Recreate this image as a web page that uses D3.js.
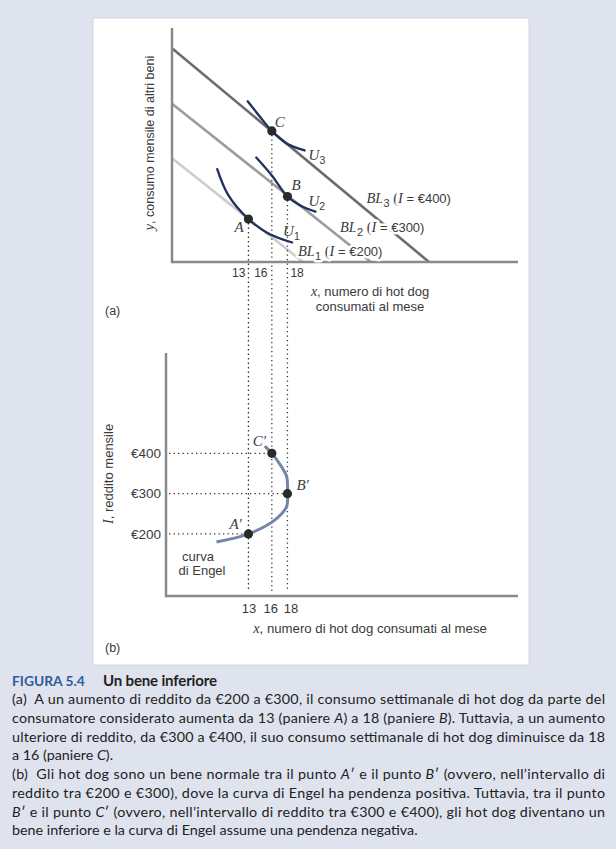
<!DOCTYPE html>
<html><head><meta charset="utf-8">
<script src="https://cdn.jsdelivr.net/npm/d3@7"></script>
<style>body{margin:0;background:#dfe3ee;} svg{display:block}</style>
</head><body><svg id="c" width="616" height="849"></svg>
<script>
// ---------- data ----------
const hotDogTicks = [13, 16, 18];
const incomeTicks = [200, 300, 400];
const budgetNames = ["1", "2", "3"];
const budgetIncome = [200, 300, 400];
const budgetStartY = [13.3, 20.3, 27.4];   // y at the vertical axis
const budgetEndX = [20.0, 28.7, 36.15];    // x where y = 0
const u1X = [9.0, 10.4, 13, 15.5, 18.6];
const u1Y = [11.9, 8.6, 5.5, 3.7, 2.5];
const u2X = [14.0, 16.0, 18, 19.7, 21.6];
const u2Y = [13.4, 11.1, 8.4, 7.2, 6.45];
const u3X = [12.9, 14.3, 16, 17.9, 20.2];
const u3Y = [20.6, 18.85, 16.8, 15.2, 14.3];
const basketNames = ["A", "B", "C"];
const basketX = [13, 18, 16];
const basketY = [5.5, 8.4, 16.8];
const basketIncome = [200, 300, 400];
const engelX = [8.9, 13, 16.4, 17.9, 18, 17.9, 17.1, 16, 15.1];
const engelIncome = [180, 200, 235, 268, 300, 342, 371, 400, 418];

const captionTitle = ["FIGURA 5.4", "Un bene inferiore"];
const captionLines = [
  [["(a)  A un aumento di reddito da €200 a €300, il consumo settimanale di hot dog da parte del"]],
  [["consumatore considerato aumenta da 13 (paniere "], ["A", "i"], [") a 18 (paniere "], ["B", "i"], ["). Tuttavia, a un aumento"]],
  [["ulteriore di reddito, da €300 a €400, il suo consumo settimanale di hot dog diminuisce da 18"]],
  [["a 16 (paniere "], ["C", "i"], [")."]],
  [["(b)  Gli hot dog sono un bene normale tra il punto "], ["A", "i"], ["′ e il punto "], ["B", "i"], ["′ (ovvero, nell’intervallo di"]],
  [["reddito tra €200 e €300), dove la curva di Engel ha pendenza positiva. Tuttavia, tra il punto"]],
  [["B", "i"], ["′ e il punto "], ["C", "i"], ["′ (ovvero, nell’intervallo di reddito tra €300 e €400), gli hot dog diventano un"]],
  [["bene inferiore e la curva di Engel assume una pendenza negativa."]]
];
const captionJustified = [true, true, true, false, true, true, true, false];

// ---------- style ----------
const SANS = "'Liberation Sans', Arial, Helvetica, sans-serif";
const SERIF = "'Liberation Serif', 'Times New Roman', serif";
const CAP = "Lato, 'Open Sans', sans-serif";
const TXT = "#3a3a3a";
const blColors = ["#cdcdcd", "#9c9c9c", "#6c6c6c"];
const navy = "#1f2f5f";

const svg = d3.select("#c");
svg.append("rect").attr("width", 616).attr("height", 849).attr("fill", "#dfe3ee");
svg.append("rect").attr("x", 93).attr("y", 18).attr("width", 436).attr("height", 647)
  .attr("fill", "#fff").attr("stroke", "#d2d7e2").attr("stroke-width", 1);

// ---------- scales ----------
const x = d3.scaleLinear().domain([3.2, 47.56]).range([172, 518]);
const yA = d3.scaleLinear().domain([0, 30]).range([262, 28]);
const yB = d3.scaleLinear().domain([46, 649]).range([596, 353]);

function rich(sel, px, py, parts, size, opts = {}) {
  const ss = opts.serif || size + 3;
  const t = sel.append("text").attr("x", px).attr("y", py).attr("fill", TXT)
    .attr("font-family", SANS).attr("font-size", size).style("white-space", "pre");
  if (opts.anchor) t.attr("text-anchor", opts.anchor);
  if (opts.transform) t.attr("transform", opts.transform);
  if (opts.halo) t.attr("stroke", "#fff").attr("stroke-width", 5).attr("paint-order", "stroke").attr("stroke-linejoin", "round");
  let shift = 0;
  parts.forEach(p => {
    const k = p[1] || "s";
    const ts = t.append("tspan").text(p[0]);
    let target = 0;
    if (k === "i") ts.attr("font-family", SERIF).attr("font-style", "italic").attr("font-size", ss);
    else if (k === "r") ts.attr("font-family", SERIF).attr("font-size", ss);
    else if (k === "sub") { ts.attr("font-size", size - 2); target = 4; }
    if (target !== shift) { ts.attr("dy", target - shift); shift = target; }
  });
  return t;
}

// ---------- panel (a) ----------
const gA = svg.append("g");
budgetIncome.forEach((inc, i) => {
  gA.append("path")
    .attr("d", d3.line()([[x(x.domain()[0]), yA(budgetStartY[i])], [x(budgetEndX[i]), yA(0)]]))
    .attr("stroke", blColors[i]).attr("stroke-width", 2.6).attr("fill", "none");
});
basketX.forEach((bx, i) => {
  gA.append("line").attr("x1", x(bx)).attr("x2", x(bx))
    .attr("y1", yA(basketY[i]) + 4).attr("y2", yB(46) - 4)
    .attr("stroke", "#333").attr("stroke-width", 1.3).attr("stroke-dasharray", "1.3,3.2");
});
gA.append("line").attr("x1", x.range()[0]).attr("x2", x.range()[0]).attr("y1", yA.range()[1]).attr("y2", yA.range()[0] + 1.2)
  .attr("stroke", "#8a8a8a").attr("stroke-width", 2.5);
gA.append("line").attr("x1", x.range()[0]).attr("x2", x.range()[1]).attr("y1", yA.range()[0]).attr("y2", yA.range()[0])
  .attr("stroke", "#8a8a8a").attr("stroke-width", 2.5);
const icLine = d3.line().x(d => x(d[0])).y(d => yA(d[1])).curve(d3.curveCatmullRom.alpha(0.5));
[[u1X, u1Y], [u2X, u2Y], [u3X, u3Y]].forEach(([xs, ys]) => {
  gA.append("path").attr("d", icLine(xs.map((v, j) => [v, ys[j]])))
    .attr("stroke", navy).attr("stroke-width", 2.3).attr("fill", "none").attr("stroke-linecap", "round");
});
basketX.forEach((bx, i) => {
  gA.append("circle").attr("cx", x(bx)).attr("cy", yA(basketY[i])).attr("r", 4.6).attr("fill", "#2a2a2a");
});
const ptOff = [[-14, 13], [4, -6], [3, -4]];
basketNames.forEach((n, i) => {
  rich(gA, x(basketX[i]) + ptOff[i][0], yA(basketY[i]) + ptOff[i][1], [[n, "i"]], 12, { serif: 15 });
});
const uLab = [[u1X, u1Y, "1", [-9, -7]], [u2X, u2Y, "2", [-7, -6]], [u3X, u3Y, "3", [4, 10]]];
uLab.forEach(([xs, ys, s, o]) => {
  const k = xs.length - 1;
  rich(gA, x(xs[k]) + o[0], yA(ys[k]) + o[1], [["U", "i"], [s, "sub"]], 12.5, { serif: 15 });
});
const blLabPos = [[298, 255.5], [340, 231.5], [366.5, 203]];
budgetIncome.forEach((inc, i) => {
  rich(gA, blLabPos[i][0], blLabPos[i][1],
    [["BL", "i"], [budgetNames[i], "sub"], [" (", "r"], ["I", "i"], [" = €" + inc + ")"]], 13, { halo: true, serif: 14.5 });
});
const tickDx = [-3, -11, 3];
const tickAnchor = ["end", "middle", "start"];
hotDogTicks.forEach((t, i) => {
  gA.append("text").attr("x", x(t) + tickDx[i]).attr("y", yA(0) + 15)
    .attr("text-anchor", tickAnchor[i]).attr("font-family", SANS).attr("font-size", 12).attr("fill", TXT).text(t);
});
rich(gA, 0, 0, [["y", "i"], [", consumo mensile di altri beni"]], 12.5, { anchor: "middle", transform: "translate(154,143) rotate(-90)", serif: 14 });
rich(gA, 370, 296, [["x", "i"], [", numero di hot dog"]], 13, { anchor: "middle", serif: 14 });
rich(gA, 370, 311, [["consumati al mese"]], 13, { anchor: "middle" });
rich(gA, 105, 315, [["(a)"]], 12.5);

// ---------- panel (b) ----------
const gB = svg.append("g");
const bx0 = 166;
basketX.forEach((bxv, i) => {
  gB.append("line").attr("x1", bx0 + 3).attr("x2", x(bxv) - 4)
    .attr("y1", yB(basketIncome[i])).attr("y2", yB(basketIncome[i]))
    .attr("stroke", "#333").attr("stroke-width", 1.3).attr("stroke-dasharray", "1.3,3.2");
});
gB.append("line").attr("x1", bx0).attr("x2", bx0).attr("y1", yB.range()[1]).attr("y2", yB.range()[0] + 1.2)
  .attr("stroke", "#8a8a8a").attr("stroke-width", 2.5);
gB.append("line").attr("x1", bx0).attr("x2", x.range()[1]).attr("y1", yB.range()[0]).attr("y2", yB.range()[0])
  .attr("stroke", "#8a8a8a").attr("stroke-width", 2.5);
const engLine = d3.line().x(d => x(d[0])).y(d => yB(d[1])).curve(d3.curveCatmullRom.alpha(0.5));
gB.append("path").attr("d", engLine(engelX.map((v, j) => [v, engelIncome[j]])))
  .attr("stroke", "#7386a8").attr("stroke-width", 3).attr("fill", "none");
basketX.forEach((bxv, i) => {
  gB.append("circle").attr("cx", x(bxv)).attr("cy", yB(basketIncome[i])).attr("r", 4.6).attr("fill", "#2a2a2a");
});
const ptOffB = [[-19, -5], [9, -4], [-19, -7]];
basketNames.forEach((n, i) => {
  rich(gB, x(basketX[i]) + ptOffB[i][0], yB(basketIncome[i]) + ptOffB[i][1], [[n + "′", "i"]], 12, { serif: 15 });
});
const axL = d3.axisLeft(yB).tickValues(incomeTicks).tickSize(0).tickPadding(5).tickFormat(d => "€" + d);
const axLg = gB.append("g").attr("transform", `translate(${bx0},0)`).call(axL);
axLg.select(".domain").remove();
axLg.selectAll("text").attr("font-family", SANS).attr("font-size", 13.5).attr("fill", TXT);
const axB = d3.axisBottom(x).tickValues(hotDogTicks).tickSize(0).tickPadding(8).tickFormat(d3.format("d"));
const axBg = gB.append("g").attr("transform", `translate(0,${yB.range()[0]})`).call(axB);
axBg.select(".domain").remove();
const tickDxB = [0, -1.5, 3];
axBg.selectAll("text").attr("font-family", SANS).attr("font-size", 13).attr("fill", TXT)
  .attr("dx", (d, i) => tickDxB[i]);
rich(gB, 0, 0, [["I", "i"], [", reddito mensile"]], 13, { anchor: "middle", transform: "translate(113,474) rotate(-90)", serif: 14.5 });
rich(gB, 370, 633, [["x", "i"], [", numero di hot dog consumati al mese"]], 13.2, { anchor: "middle", serif: 14.5 });
rich(gB, 198, 561, [["curva"]], 13, { anchor: "middle" });
rich(gB, 202, 575, [["di Engel"]], 13, { anchor: "middle" });
rich(gB, 105, 652, [["(b)"]], 12.5);

// ---------- caption ----------
const gC = svg.append("g").attr("font-family", CAP);
gC.append("text").attr("x", 12).attr("y", 686).attr("font-size", 13.8).attr("font-weight", "bold")
  .attr("fill", "#2d5c9b").text(captionTitle[0]);
gC.append("text").attr("x", 103).attr("y", 686).attr("font-size", 15).attr("font-weight", "bold")
  .attr("fill", "#222").attr("textLength", 114).attr("lengthAdjust", "spacing").text(captionTitle[1]);
captionLines.forEach((parts, i) => {
  const t = gC.append("text").attr("x", 12).attr("y", 704 + i * 18.75)
    .attr("font-size", 14.3).attr("fill", "#222").style("white-space", "pre");
  parts.forEach(p => {
    const ts = t.append("tspan").text(p[0]);
    if (p[1] === "i") ts.attr("font-style", "italic");
  });
  if (captionJustified[i]) t.attr("textLength", 593).attr("lengthAdjust", "spacing");
});
</script></body></html>
